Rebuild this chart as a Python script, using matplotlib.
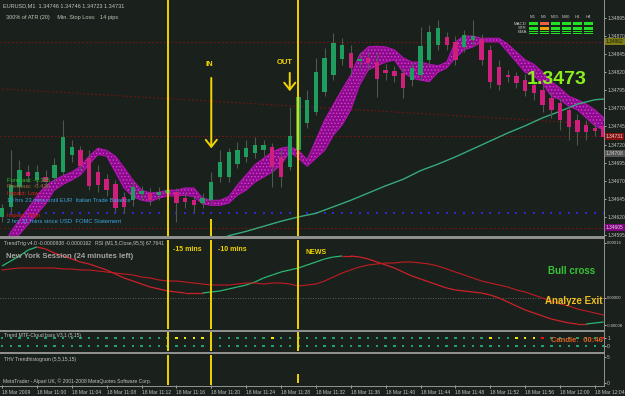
import matplotlib
matplotlib.use('Agg')
import matplotlib.pyplot as plt
from matplotlib.patches import Rectangle
from matplotlib.collections import LineCollection
import numpy as np

plt.rcParams['font.family'] = ['Liberation Sans', 'DejaVu Sans']
plt.rcParams['hatch.linewidth'] = 0.6

# ---------------- data ----------------
time_labels = ['18 Mar 2009', '18 Mar 11:00', '18 Mar 11:04', '18 Mar 11:08', '18 Mar 11:12',
               '18 Mar 11:16', '18 Mar 11:20', '18 Mar 11:24', '18 Mar 11:28', '18 Mar 11:32',
               '18 Mar 11:36', '18 Mar 11:40', '18 Mar 11:44', '18 Mar 11:48', '18 Mar 11:52',
               '18 Mar 11:56', '18 Mar 12:00', '18 Mar 12:04']
tick_bars = list(range(0, 69, 4))

opens = [1.34620, 1.34634, 1.34661, 1.34682, 1.34671, 1.34675, 1.34674, 1.34682, 1.34706, 1.34712,
         1.34701, 1.34682, 1.34672, 1.34665, 1.34648, 1.34643, 1.34652, 1.34653, 1.34650, 1.34653,
         1.34654, 1.34646, 1.34643, 1.34639, 1.34643, 1.34675, 1.34675, 1.34693, 1.34703, 1.34708,
         1.34712, 1.34717, 1.34703, 1.34689, 1.34712, 1.34750, 1.34765, 1.34793, 1.34816, 1.34838,
         1.34847, 1.34836, 1.34840, 1.34834, 1.34823, 1.34822, 1.34819, 1.34809, 1.34816, 1.34837,
         1.34858, 1.34869, 1.34862, 1.34855, 1.34865, 1.34866, 1.34851, 1.34827, 1.34816, 1.34815,
         1.34809, 1.34802, 1.34796, 1.34784, 1.34778, 1.34768, 1.34754, 1.34747, 1.34743, 1.34746]
highs = [1.34638, 1.34712, 1.34699, 1.34692, 1.34692, 1.34685, 1.34701, 1.34754, 1.34726, 1.34718,
         1.34712, 1.34692, 1.34679, 1.34671, 1.34654, 1.34668, 1.34663, 1.34660, 1.34661, 1.34664,
         1.34660, 1.34653, 1.34649, 1.34653, 1.34682, 1.34712, 1.34715, 1.34724, 1.34726, 1.34730,
         1.34726, 1.34722, 1.34712, 1.34772, 1.34796, 1.34796, 1.34840, 1.34854, 1.34874, 1.34867,
         1.34858, 1.34848, 1.34848, 1.34848, 1.34831, 1.34829, 1.34826, 1.34834, 1.34883, 1.34885,
         1.34892, 1.34876, 1.34870, 1.34878, 1.34892, 1.34873, 1.34858, 1.34837, 1.34823, 1.34820,
         1.34818, 1.34809, 1.34802, 1.34793, 1.34784, 1.34773, 1.34762, 1.34754, 1.34748, 1.34746]
lows = [1.34613, 1.34627, 1.34650, 1.34668, 1.34664, 1.34660, 1.34668, 1.34678, 1.34696, 1.34685,
        1.34657, 1.34654, 1.34649, 1.34627, 1.34625, 1.34635, 1.34643, 1.34636, 1.34643, 1.34646,
        1.34613, 1.34632, 1.34627, 1.34632, 1.34638, 1.34668, 1.34668, 1.34688, 1.34696, 1.34701,
        1.34704, 1.34661, 1.34661, 1.34685, 1.34710, 1.34743, 1.34761, 1.34787, 1.34809, 1.34830,
        1.34816, 1.34826, 1.34823, 1.34786, 1.34809, 1.34807, 1.34784, 1.34801, 1.34809, 1.34830,
        1.34851, 1.34851, 1.34830, 1.34848, 1.34858, 1.34830, 1.34798, 1.34796, 1.34807, 1.34798,
        1.34787, 1.34782, 1.34765, 1.34757, 1.34740, 1.34726, 1.34719, 1.34726, 1.34732, 1.34723]
closes = [1.34632, 1.34664, 1.34685, 1.34677, 1.34682, 1.34668, 1.34692, 1.34730, 1.34717, 1.34690,
          1.34663, 1.34664, 1.34657, 1.34632, 1.34634, 1.34661, 1.34656, 1.34643, 1.34654, 1.34657,
          1.34639, 1.34641, 1.34636, 1.34646, 1.34668, 1.34696, 1.34710, 1.34712, 1.34715, 1.34719,
          1.34719, 1.34689, 1.34675, 1.34732, 1.34786, 1.34782, 1.34820, 1.34840, 1.34861, 1.34858,
          1.34826, 1.34838, 1.34833, 1.34811, 1.34819, 1.34815, 1.34798, 1.34826, 1.34856, 1.34876,
          1.34881, 1.34858, 1.34837, 1.34872, 1.34870, 1.34837, 1.34807, 1.34802, 1.34813, 1.34805,
          1.34794, 1.34791, 1.34775, 1.34768, 1.34754, 1.34744, 1.34737, 1.34737, 1.34739, 1.34731]

cloud_a = [1.34574, 1.34599, 1.34616, 1.34632, 1.34649, 1.34663, 1.34671, 1.34677, 1.34682, 1.34690,
           1.34704, 1.34715, 1.34712, 1.34704, 1.34688, 1.34671, 1.34657, 1.34653, 1.34654, 1.34657,
           1.34657, 1.34660, 1.34660, 1.34646, 1.34643, 1.34643, 1.34648, 1.34664, 1.34678, 1.34692,
           1.34701, 1.34710, 1.34715, 1.34717, 1.34712, 1.34699, 1.34726, 1.34754, 1.34775, 1.34796,
           1.34816, 1.34844, 1.34855, 1.34856, 1.34855, 1.34851, 1.34840, 1.34834, 1.34834, 1.34831,
           1.34829, 1.34834, 1.34862, 1.34870, 1.34870, 1.34867, 1.34867, 1.34867, 1.34859, 1.34848,
           1.34837, 1.34831, 1.34820, 1.34807, 1.34798, 1.34787, 1.34782, 1.34776, 1.34768, 1.34757]
cloud_b = [1.34566, 1.34585, 1.34596, 1.34610, 1.34624, 1.34638, 1.34657, 1.34665, 1.34671, 1.34678,
           1.34693, 1.34706, 1.34704, 1.34682, 1.34660, 1.34648, 1.34643, 1.34641, 1.34646, 1.34649,
           1.34649, 1.34650, 1.34648, 1.34638, 1.34636, 1.34636, 1.34639, 1.34650, 1.34657, 1.34668,
           1.34675, 1.34682, 1.34692, 1.34710, 1.34701, 1.34690, 1.34701, 1.34712, 1.34733, 1.34747,
           1.34768, 1.34802, 1.34823, 1.34829, 1.34834, 1.34837, 1.34820, 1.34812, 1.34809, 1.34807,
           1.34820, 1.34826, 1.34840, 1.34851, 1.34855, 1.34862, 1.34862, 1.34862, 1.34848, 1.34834,
           1.34820, 1.34815, 1.34804, 1.34787, 1.34782, 1.34773, 1.34768, 1.34757, 1.34746, 1.34740]

ma_bars = [24, 26, 28, 30, 32, 34, 36, 38, 40, 42, 44, 46, 48, 50, 52, 54, 56, 58, 60, 62, 64, 66, 68, 69]
ma_vals = [1.34584, 1.34594, 1.34600, 1.34607, 1.34614, 1.34620, 1.34625, 1.34634, 1.34643, 1.34653,
           1.34663, 1.34672, 1.34684, 1.34693, 1.34703, 1.34714, 1.34725, 1.34736, 1.34746, 1.34757,
           1.34766, 1.34776, 1.34782, 1.34783]

slope_line_bars = [0, 69]
slope_line_vals = [1.34797, 1.34748]
red_levels = [1.34862, 1.34732, 1.34605]
blue_level = 1.34625
price_ticks = [1.34595, 1.34620, 1.34645, 1.34670, 1.34695, 1.34720, 1.34745,
               1.34770, 1.34795, 1.34820, 1.34845, 1.34870, 1.34895]

event_bars = [19, 24, 34]
in_bar, out_bar = 24, 33

tt_fast = [9.31, 10.76, 12.22, 13.96, 14.84, 14.25, 13.09, 12.22, 11.35, 10.47,
           9.89, 9.02, 8.15, 6.98, 5.82, 4.95, 4.07, 3.20, 2.62, 2.04,
           1.75, 1.45, 1.45, 1.45, 1.75, 2.04, 2.62, 3.20, 3.78, 4.65,
           5.82, 6.69, 7.56, 8.15, 8.73, 9.60, 10.47, 11.35, 11.93, 12.22,
           12.22, 11.93, 11.35, 10.47, 9.60, 8.73, 7.56, 6.40, 5.53, 4.65,
           3.78, 2.91, 2.33, 2.04, 1.75, 1.45, 0.87, 0.00, -1.16, -2.33,
           -3.49, -4.36, -5.24, -6.11, -6.69, -7.27, -7.56, -7.56, -7.27, -6.98]
tt_slow = [8.15, 8.44, 8.73, 8.73, 8.73, 8.73, 8.73, 8.44, 8.44, 8.15,
           8.15, 7.85, 7.56, 7.27, 6.98, 6.69, 6.11, 5.82, 5.24, 4.95,
           4.95, 4.65, 4.36, 4.07, 3.78, 3.78, 3.78, 4.07, 4.36, 4.36,
           4.07, 4.36, 4.36, 4.07, 3.49, 3.78, 4.07, 4.95, 6.11, 7.27,
           8.15, 9.02, 9.60, 9.89, 10.18, 10.18, 10.47, 10.47, 10.18, 9.89,
           9.31, 8.44, 7.56, 6.69, 5.82, 4.95, 4.36, 3.78, 3.20, 2.33,
           1.75, 0.87, 0.00, -0.87, -1.75, -2.33, -3.20, -3.78, -4.36, -4.95]
tt_scale = 1e-5

cloud_row1 = ['g'] * 70
for b in [20, 21, 22, 23, 31, 56, 59, 60, 61]:
    cloud_row1[b] = 'y'
for b in [62, 69]:
    cloud_row1[b] = 'r'
cloud_row2 = ['g'] * 70

table_cols = ['M1', 'M5', 'M15', 'M30', 'H1', 'H4']
table_rows = ['MACD', 'STR', 'EMA']
table_state = [['g', 'r', 'g', 'g', 'g', 'g'],
               ['g', 'o', 'g', 'g', 'g', 'g'],
               ['g', 'g', 'g', 'g', 'g', 'g']]

# ---------------- style ----------------
W, H = 625, 396
BG = '#1a201b'
SEP = '#8f8f8f'
TXT = '#c4c4c4'
YEL = '#f2d400'
GREEN_C = '#1f9d5e'
PINK_C = '#cf1f7c'
WICK = '#4d594f'
AXFS = 3.5

fig = plt.figure(figsize=(W / 100, H / 100), dpi=100, facecolor=BG)
XR = 604


def add_ax(y0, y1, fs=AXFS):
    ax = fig.add_axes([0, 1 - y1 / H, XR / W, (y1 - y0) / H])
    ax.set_facecolor(BG)
    for s in ax.spines.values():
        s.set_visible(False)
    ax.set_xlim(-0.23, 69.04)
    ax.tick_params(axis='x', bottom=False, labelbottom=False)
    ax.yaxis.tick_right()
    ax.tick_params(axis='y', right=True, length=1.5, width=0.6, color=TXT,
                   labelsize=fs, labelcolor=TXT, pad=0.8)
    return ax


def ftext(x, y, s, **kw):
    kw.setdefault('va', 'center')
    kw.setdefault('ha', 'left')
    fig.text(x / W, 1 - y / H, s, **kw)


def frect(x0, y0, x1, y1, color, z=5):
    fig.add_artist(Rectangle((x0 / W, 1 - y1 / H), (x1 - x0) / W, (y1 - y0) / H,
                             transform=fig.transFigure, facecolor=color, lw=0, zorder=z))


bars = np.arange(len(opens))

# ---------------- main price panel ----------------
ax = add_ax(0, 236)
ax.set_ylim(1.345936, 1.349199)
ax.set_yticks(price_ticks)
ax.set_yticklabels(['%.5f' % p for p in price_ticks])

for lv in red_levels:
    ax.axhline(lv, color='#741515', lw=0.8, ls=(0, (1.5, 2)), zorder=1)
ax.plot(slope_line_bars, slope_line_vals, color='#741515', lw=0.8, ls=(0, (1.5, 2)), zorder=1)
ax.scatter(bars, [blue_level] * len(bars), s=1.5, marker='s', color='#2b2bd0', lw=0, zorder=1)

ax.fill_between(bars, cloud_a, cloud_b, facecolor='#8a0c8a', edgecolor='#e13ae1',
                hatch='.....', lw=0, zorder=2)
ax.plot(bars, cloud_a, color='#b014b0', lw=0.8, zorder=2)
ax.plot(bars, cloud_b, color='#b014b0', lw=0.8, zorder=2)

ax.plot(ma_bars, ma_vals, color='#37a97c', lw=1.0, zorder=3)

o = np.array(opens); c = np.array(closes)
cols = np.where(c >= o, GREEN_C, PINK_C)
ax.vlines(bars, lows, highs, color=WICK, lw=0.8, zorder=3)
ax.bar(bars, np.maximum(np.abs(c - o), 0.00002), bottom=np.minimum(o, c), width=0.5,
       color=cols, lw=0, zorder=4)

ax.axvline(event_bars[0], color=YEL, lw=1.4, zorder=6)
ax.axvline(event_bars[2], color=YEL, lw=1.4, zorder=6)
ax.axvline(event_bars[1], ymin=0, ymax=16 / 236, color=YEL, lw=1.4, zorder=6)

ax.annotate('', xy=(in_bar, 1.34711), xytext=(in_bar, 1.34816),
            arrowprops=dict(arrowstyle='->,head_length=0.5,head_width=0.4', color=YEL, lw=1.4))
ax.annotate('', xy=(out_bar, 1.34790), xytext=(out_bar, 1.34823),
            arrowprops=dict(arrowstyle='->,head_length=0.5,head_width=0.4', color=YEL, lw=1.4))

# price axis markers
for val, fc, tc in [(1.34862, '#7d7d12', '#1a1a1a'), (1.34731, '#8a1010', '#e0e0e0'),
                    (1.34708, '#555555', '#cccccc'), (1.34605, '#800080', '#e0e0e0')]:
    ax.text(1.003, val, '%.5f' % val, transform=ax.get_yaxis_transform(), fontsize=AXFS,
            color=tc, va='center', ha='left', clip_on=False,
            bbox=dict(boxstyle='square,pad=0.2', fc=fc, ec='none'))

ftext(206, 64, 'IN', color=YEL, fontsize=5.5, weight='bold')
ftext(277, 62, 'OUT', color=YEL, fontsize=5.5, weight='bold')
ftext(527, 80, '1.3473', color='#8cf01e', fontsize=14, weight='bold')

ftext(3, 6, 'EURUSD,M1  1.34746 1.34746 1.34723 1.34731', color=TXT, fontsize=4)
ftext(6, 17, '300% of ATR (20)     Min. Stop Loss:   14 pips', color='#b8cbb8', fontsize=4)

ftext(7, 180, 'Forecast: -0.305', color='#2fc22f', fontsize=4.2)
ftext(7, 187, 'Previous: -0.416', color='#a0703a', fontsize=4.2)
ftext(7, 194, 'Impact: Low', color='#e02020', fontsize=4.2)
ftext(7, 201, '10 hrs 23 mins until EUR  Italian Trade Balance', color='#3aa6e0', fontsize=4.2)
ftext(7, 216, 'Impact: High', color='#e02020', fontsize=4.2)
ftext(7, 222, '2 hrs 31 mins since USD  FOMC Statement', color='#3aa6e0', fontsize=4.2)

# MTF table
col_x = [529, 540, 551, 562, 573, 584]
for j, name in enumerate(table_cols):
    ftext(col_x[j] + 4, 17, name, color=TXT, fontsize=3.2, ha='center')
state_col = {'g': '#22e022', 'r': '#f06040', 'o': '#f0a000'}
for i, rname in enumerate(table_rows):
    y = 24 + 4.2 * i
    ftext(527, y, rname, color=TXT, fontsize=3.2, ha='right')
    for j in range(len(table_cols)):
        frect(col_x[j], y - 1.6, col_x[j] + 9, y - 0.4, state_col[table_state[i][j]])
        frect(col_x[j], y + 0.2, col_x[j] + 9, y + 1.4, state_col[table_state[i][j]])

# ---------------- TrendTrig panel ----------------
ax2 = add_ax(240, 329, fs=3.1)
ax2.set_ylim(-9.02e-5, 16.87e-5)
ax2.set_yticks([16e-5, 0, -8e-5])
ax2.set_yticklabels(['0.00016', '0.00000', '-0.00008'])
ax2.axhline(0, color='#777777', lw=0.6, ls=(0, (1, 2)))
fast = np.array(tt_fast) * tt_scale
slow = np.array(tt_slow) * tt_scale
pts = np.column_stack([bars, fast])
segs = np.stack([pts[:-1], pts[1:]], axis=1)
seg_cols = ['#2bb673' if d > 0 else '#d0202a' for d in np.diff(fast)]
ax2.add_collection(LineCollection(segs, colors=seg_cols, lw=0.9))
ax2.plot(bars, slow, color='#c01c24', lw=0.8)
for b in event_bars:
    ax2.axvline(b, color=YEL, lw=1.4)
ftext(4, 243, 'TrendTrig v4.0 -0.0000938 -0.0000162   RSI (M1,5,Close,95,5) 67.7641', color=TXT, fontsize=3.6)
ftext(6, 256, 'New York Session (24 minutes left)', color='#a3a3a3', fontsize=5.6, weight='bold')
ftext(173, 250, '-15 mins', color=YEL, fontsize=5, weight='bold')
ftext(218, 250, '-10 mins', color=YEL, fontsize=5, weight='bold')
ftext(305, 252, 'NEWS', color=YEL, fontsize=5, weight='bold')
ftext(548, 271, 'Bull cross', color='#37c437', fontsize=7, weight='bold')
ftext(545, 301, 'Analyze Exit', color='#f0c020', fontsize=7, weight='bold')

# ---------------- MTF cloud dots panel ----------------
ax3 = add_ax(332, 351)
ax3.set_ylim(-0.625, 1.75)
ax3.set_yticks([1, 0])
ax3.set_yticklabels(['1', '0'])
dot_col = {'g': '#1fa267', 'y': '#f0f000', 'r': '#f01010'}
ax3.scatter(bars, [1] * len(bars), s=3, marker='s', c=[dot_col[k] for k in cloud_row1], lw=0)
ax3.scatter(bars, [0] * len(bars), s=3, marker='s', c=[dot_col[k] for k in cloud_row2], lw=0)
for b in event_bars:
    ax3.axvline(b, color=YEL, lw=1.4)
ftext(4, 335, 'Trend MTF-Cloud bars V3.1 (5,15)', color=TXT, fontsize=3.6)
ftext(551, 340, 'Candle:  00:46', color='#e06020', fontsize=5.5, weight='bold')

# ---------------- Trend histogram panel ----------------
ax4 = add_ax(355, 385)
ax4.set_ylim(-0.38, 5.38)
ax4.set_yticks([5, 0])
ax4.set_yticklabels(['5', '0'])
for b in event_bars[:2]:
    ax4.axvline(b, color=YEL, lw=1.4)
ax4.axvline(event_bars[2], ymin=0.1, ymax=0.35, color=YEL, lw=1.4)
ax4.set_xticks(tick_bars)
ax4.set_xticklabels(time_labels, ha='left')
ax4.tick_params(axis='x', bottom=True, labelbottom=True, length=2, width=0.6, color=TXT,
                labelsize=3.6, labelcolor=TXT, pad=1.5)
ftext(4, 360, 'THV Trendhistogram (5,5,15,15)', color=TXT, fontsize=3.6)
ftext(3, 381, 'MetaTrader - Alpari UK, \u00a9 2001-2008 MetaQuotes Software Corp.', color=TXT, fontsize=3.6)

# separators and axis border
frect(0, 236.5, XR, 239, SEP)
frect(0, 329.5, XR, 331.5, SEP)
frect(0, 352, XR, 354, SEP)
frect(0, 385.5, XR, 386.5, SEP)
frect(XR, 0, XR + 1, 386.5, SEP)

fig.savefig('out.png', dpi=100, facecolor=BG)
